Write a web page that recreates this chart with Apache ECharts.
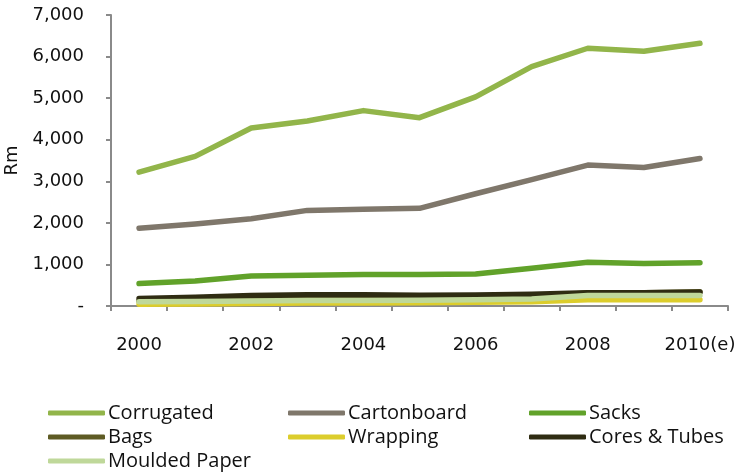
<!DOCTYPE html>
<html>
<head>
<meta charset="utf-8">
<script src="https://cdn.jsdelivr.net/npm/echarts@6/dist/echarts.min.js"></script>
<style>
  html, body { margin: 0; padding: 0; background: #ffffff; }
  #chart { width: 734px; height: 472px; }
</style>
</head>
<body>
<div id="chart"></div>
<script>
// Paper packaging market by segment (Rm)
const years = ['2000', '2001', '2002', '2003', '2004', '2005', '2006', '2007', '2008', '2009', '2010(e)'];

const corrugated   = [3220, 3600, 4280, 4450, 4700, 4530, 5030, 5760, 6200, 6130, 6320];
const cartonboard  = [1870, 1970, 2100, 2300, 2330, 2350, 2700, 3040, 3390, 3330, 3550];
const sacks        = [540, 600, 720, 740, 760, 760, 770, 910, 1050, 1020, 1040];
const bags         = [120, 130, 150, 160, 160, 160, 170, 220, 310, 320, 340];
const wrapping     = [40, 50, 60, 70, 70, 80, 90, 100, 150, 150, 150];
const coresTubes   = [180, 210, 250, 270, 270, 260, 265, 280, 320, 320, 330];
const mouldedPaper = [100, 110, 120, 130, 130, 140, 150, 170, 250, 250, 250];

const seriesNames  = ['Corrugated', 'Cartonboard', 'Sacks', 'Bags', 'Wrapping', 'Cores & Tubes', 'Moulded Paper'];
const seriesValues = [corrugated, cartonboard, sacks, bags, wrapping, coresTubes, mouldedPaper];
const seriesColors = ['#92b54a', '#7f776b', '#61a22a', '#5e5b24', '#dccd2c', '#2f2c12', '#bfd89a'];

const yTicks = { min: 0, max: 7000, interval: 1000 };

const chart = echarts.init(document.getElementById('chart'), null, { renderer: 'canvas' });

const axisFont = 'DejaVu Sans, sans-serif';
const legendText = { fontFamily: 'Open Sans, sans-serif', fontSize: 20, color: '#111' };

function legendColumn(names, left) {
  return {
    data: names,
    orient: 'vertical',
    left: left,
    top: 403,
    itemGap: 4,
    itemWidth: 57,
    itemHeight: 5,
    icon: 'roundRect',
    padding: 0,
    selectedMode: false,
    textStyle: Object.assign({ padding: [0, 0, 0, -2] }, legendText)
  };
}

chart.setOption({
  animation: false,
  backgroundColor: '#ffffff',
  grid: { left: 111, right: 6, top: 15, bottom: 166, containLabel: false, outerBoundsMode: 'none' },
  legend: [
    legendColumn(['Corrugated', 'Bags', 'Moulded Paper'], 48),
    legendColumn(['Cartonboard', 'Wrapping'], 288),
    legendColumn(['Sacks', 'Cores & Tubes'], 529)
  ],
  xAxis: {
    type: 'category',
    data: years,
    boundaryGap: true,
    axisLine: { lineStyle: { color: '#8a8a8a', width: 2 } },
    axisTick: { show: true, interval: 0, length: 5, lineStyle: { color: '#8a8a8a', width: 2 } },
    axisLabel: {
      interval: 1,
      margin: 30,
      fontFamily: axisFont,
      fontSize: 18,
      color: '#111'
    },
    splitLine: { show: false }
  },
  yAxis: {
    type: 'value',
    min: yTicks.min,
    max: yTicks.max,
    interval: yTicks.interval,
    name: 'Rm',
    nameLocation: 'middle',
    nameGap: 78,
    nameRotate: 90,
    nameTextStyle: { fontFamily: axisFont, fontSize: 18, color: '#111' },
    axisLine: { show: true, lineStyle: { color: '#8a8a8a', width: 2 } },
    axisTick: { show: true, length: 5, lineStyle: { color: '#8a8a8a', width: 2 } },
    axisLabel: {
      margin: 27,
      fontFamily: axisFont,
      fontSize: 18,
      color: '#111',
      formatter: function (v) {
        return v === 0 ? '-' : v.toLocaleString('en-US');
      }
    },
    splitLine: { show: false }
  },
  series: seriesNames.map(function (name, i) {
    return {
      name: name,
      type: 'line',
      data: seriesValues[i],
      showSymbol: false,
      symbol: 'none',
      smooth: false,
      color: seriesColors[i],
      lineStyle: { color: seriesColors[i], width: 5.5, cap: 'round', join: 'round' }
    };
  })
});
</script>
</body>
</html>
